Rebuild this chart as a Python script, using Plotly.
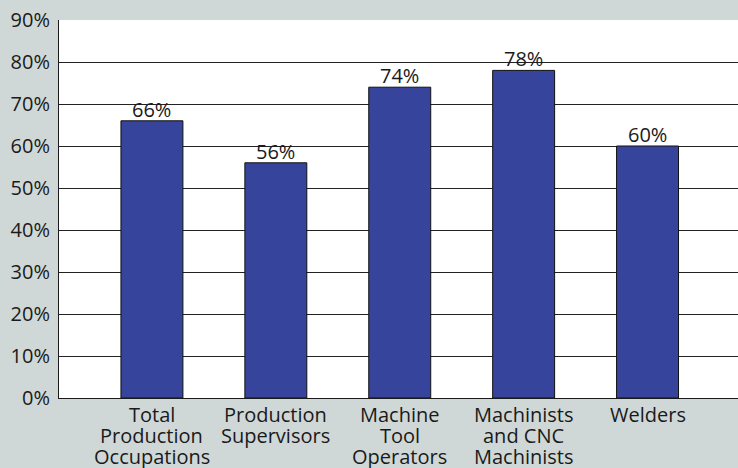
import plotly.graph_objects as go

# Share of workers in each occupation (percent)
categories = [
    "Total<br>Production<br>Occupations",
    "Production<br>Supervisors",
    "Machine<br>Tool<br>Operators",
    "Machinists<br>and CNC<br>Machinists",
    "Welders",
]
values = [66, 56, 74, 78, 60]
y_ticks = [0, 10, 20, 30, 40, 50, 60, 70, 80, 90]

FONT = "Open Sans"
FSIZE = 20
INK = "#1a1a1a"
BG = "#cfd8d7"
BAR = "#36459b"

x_pos = list(range(len(categories)))

fig = go.Figure(
    go.Bar(
        x=x_pos,
        y=values,
        width=0.5,
        marker=dict(color=BAR, line=dict(color="#111111", width=1)),
        hoverinfo="skip",
    )
)

annotations = []

# Value labels sitting just above each bar
for i, v in enumerate(values):
    annotations.append(
        dict(
            x=i, y=v, xref="x", yref="y",
            text=f"{v}%", showarrow=False,
            xanchor="center", yanchor="bottom",
            yshift=-4,
            font=dict(family=FONT, size=FSIZE, color=INK),
        )
    )

# Category labels, one annotation per line for tight line spacing
for i, cat in enumerate(categories):
    for j, line in enumerate(cat.split("<br>")):
        annotations.append(
            dict(
                x=i, y=0, xref="x", yref="paper",
                text=line, showarrow=False,
                xanchor="center", yanchor="middle",
                yshift=-16 - 21 * j,
                font=dict(family=FONT, size=FSIZE, color=INK),
            )
        )

fig.update_layout(
    width=738,
    height=468,
    margin=dict(l=59, r=0, t=20, b=70),
    paper_bgcolor=BG,
    plot_bgcolor="white",
    showlegend=False,
    annotations=annotations,
    xaxis=dict(
        range=[-0.75, 4.73],
        showticklabels=False,
        showgrid=False,
        zeroline=False,
        showline=True,
        linecolor=INK,
        linewidth=1,
        ticks="",
        fixedrange=True,
    ),
    yaxis=dict(
        range=[0, 90],
        tickvals=y_ticks,
        ticktext=[f"{t}%" for t in y_ticks],
        tickfont=dict(family=FONT, size=FSIZE, color=INK),
        showgrid=True,
        gridcolor="#222222",
        gridwidth=1,
        zeroline=False,
        showline=True,
        linecolor=INK,
        linewidth=1,
        ticks="",
        ticklabelstandoff=4,
        fixedrange=True,
    ),
)

fig.write_html("out.html", config={"displayModeBar": False})
